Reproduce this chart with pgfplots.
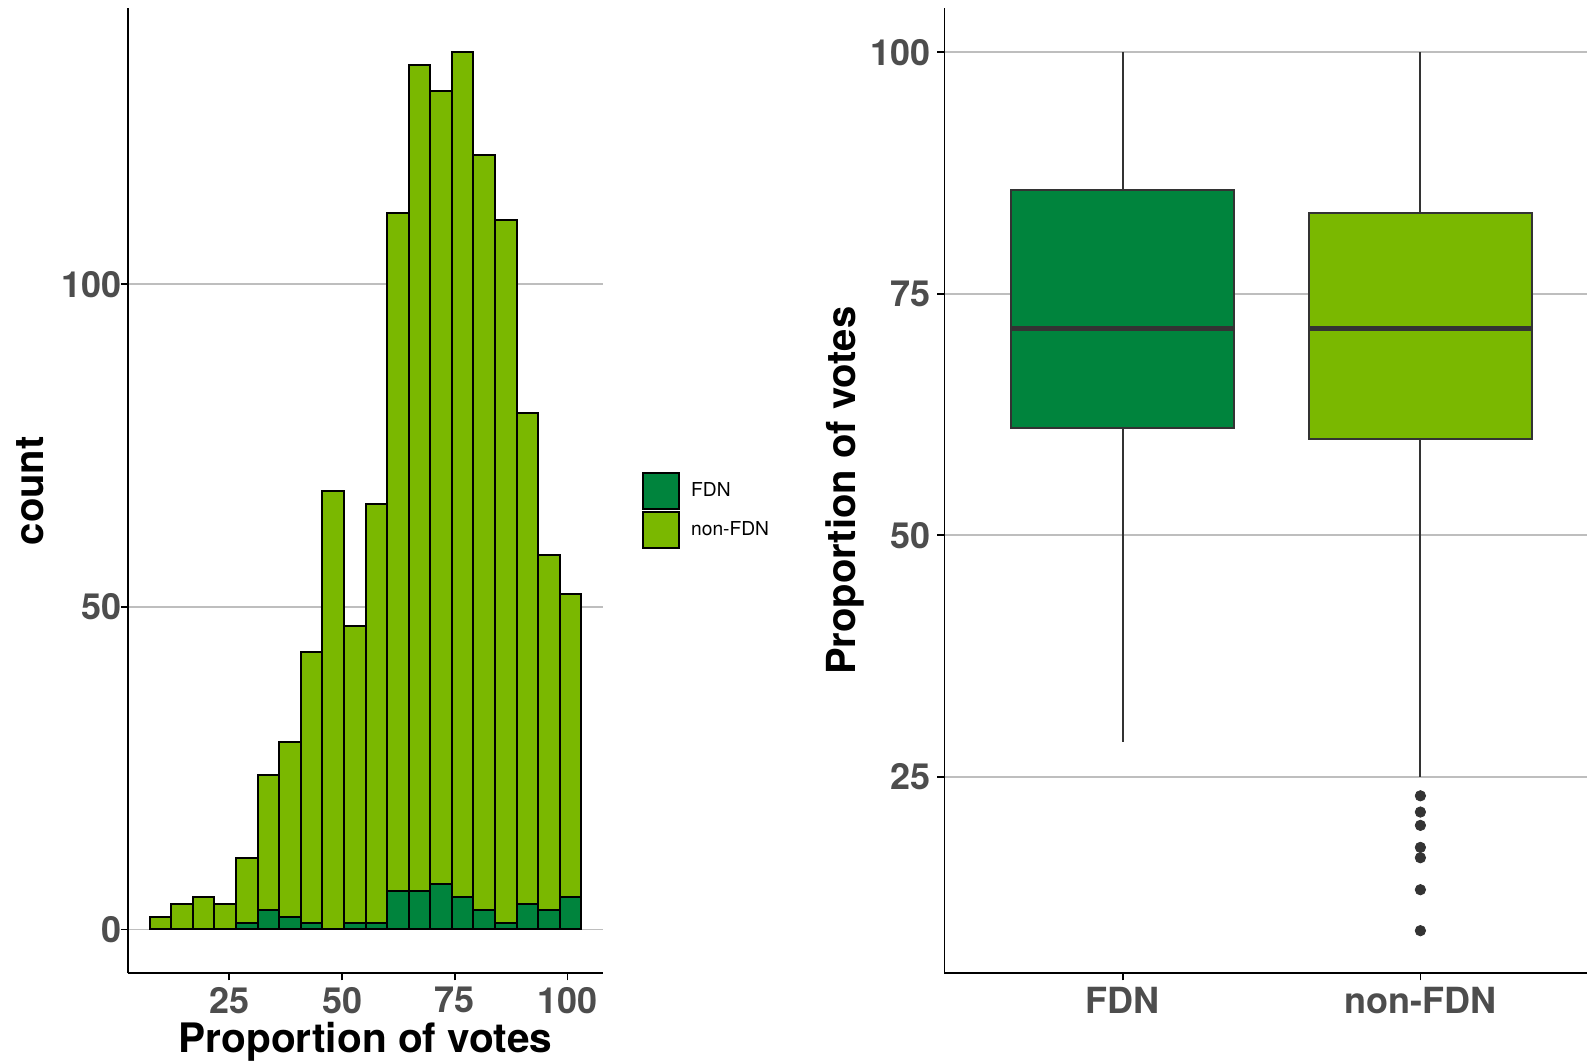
\documentclass[border=0pt]{standalone}
\usepackage{fontspec}
\setmainfont{TeX Gyre Heros}
\usepackage{pgfplots}
\pgfplotsset{compat=1.18}
\definecolor{fdn}{RGB}{0,132,61}
\definecolor{nonfdn}{RGB}{122,184,0}
\definecolor{grey30}{RGB}{77,77,77}
\definecolor{grey20}{RGB}{51,51,51}
\definecolor{gridc}{RGB}{190,190,190}
\pgfplotsset{
  myax/.style={
    scale only axis,
    axis x line*=bottom, axis y line*=left,
    axis line style={-, black, line width=0.9pt},
    tick align=outside, major tick length=3.5pt,
    tick style={black, line width=0.9pt},
    ymajorgrids, grid style={gridc, line width=0.9pt},
    tick label style={font=\fontsize{18}{18}\selectfont\bfseries, text=grey30},
    /pgf/number format/assume math mode=true,
  }
}
\begin{document}
\begin{tikzpicture}
\useasboundingbox (0,0) rectangle (793.5pt,530.5pt);
\begin{axis}[myax, at={(64pt,43.85pt)}, anchor=south west,
  width=237.5pt, height=482.5pt,
  xmin=2.5, xmax=107.9, ymin=-6.8, ymax=142.8,
  xtick={25,50,75,100}, ytick={0,50,100},
  yticklabel style={xshift=4pt},
  ybar stacked, bar width=4.79,
  xlabel={Proportion of votes}, ylabel={count},
  every axis x label/.style={at={(axis description cs:0.5,-0.0816)}, anchor=base,
    font=\fontsize{20.3}{20}\selectfont\bfseries, text=black},
  every axis y label/.style={at={(axis description cs:-0.2055,0.5)}, anchor=center, rotate=90,
    font=\fontsize{20}{20}\selectfont\bfseries, text=black},
  legend cell align=left,
  legend style={at={(axis description cs:1.0817,0.5199)}, anchor=north west,
    draw=none, fill=none, inner sep=0pt, row sep=0.5pt,
    font=\fontsize{9.6}{10}\selectfont},
]
\addplot[fill=fdn, draw=black, line width=1pt,
  legend image code/.code={\draw[fill=fdn, draw=black, line width=1pt] (0pt,-9pt) rectangle (18pt,9pt); \path[draw=none,fill=none] (0pt,0pt) -- (22pt,0pt);}]
  coordinates {(9.70,0) (14.49,0) (19.28,0) (24.07,0) (28.86,1) (33.65,3) (38.44,2) (43.23,1) (48.02,0) (52.81,1)
               (57.60,1) (62.39,6) (67.18,6) (71.97,7) (76.76,5) (81.55,3) (86.34,1) (91.13,4) (95.92,3) (100.71,5)};
\addlegendentry{FDN}
\addplot[fill=nonfdn, draw=black, line width=1pt,
  legend image code/.code={\draw[fill=nonfdn, draw=black, line width=1pt] (0pt,-9pt) rectangle (18pt,9pt); \path[draw=none,fill=none] (0pt,0pt) -- (22pt,0pt);}]
  coordinates {(9.70,2) (14.49,4) (19.28,5) (24.07,4) (28.86,10) (33.65,21) (38.44,27) (43.23,42) (48.02,68) (52.81,46)
               (57.60,65) (62.39,105) (67.18,128) (71.97,123) (76.76,131) (81.55,117) (86.34,109) (91.13,76) (95.92,55) (100.71,47)};
\addlegendentry{non-FDN}
\end{axis}
\begin{axis}[myax, at={(472.2pt,43.85pt)}, anchor=south west,
  width=321.3pt, height=482.5pt,
  xmin=0.4, xmax=2.56, ymin=4.66, ymax=104.54,
  xtick={1,2}, xticklabels={FDN,non-FDN}, ytick={25,50,75,100},
  ylabel={Proportion of votes},
  every axis y label/.style={at={(axis description cs:-0.1544,0.5)}, anchor=center, rotate=90,
    font=\fontsize{20}{20}\selectfont\bfseries, text=black},
]
% whiskers
\addplot[grey20, line width=1pt] coordinates {(1,85.76) (1,100)};
\addplot[grey20, line width=1pt] coordinates {(1,28.6) (1,61.15)};
\addplot[grey20, line width=1pt] coordinates {(2,83.35) (2,100)};
\addplot[grey20, line width=1pt] coordinates {(2,25.0) (2,60.0)};
% boxes
\addplot[fill=fdn, draw=grey20, line width=1pt] coordinates {(0.625,61.15) (1.375,61.15) (1.375,85.76) (0.625,85.76)} -- cycle;
\addplot[fill=nonfdn, draw=grey20, line width=1pt] coordinates {(1.625,60.0) (2.375,60.0) (2.375,83.35) (1.625,83.35)} -- cycle;
% medians
\addplot[grey20, line width=2.2pt] coordinates {(0.625,71.4) (1.375,71.4)};
\addplot[grey20, line width=2.2pt] coordinates {(1.625,71.4) (2.375,71.4)};
% outliers
\addplot[only marks, mark=*, mark size=2.6pt, grey20] coordinates {(2,23.03) (2,21.35) (2,19.97) (2,17.69) (2,16.62) (2,13.31) (2,9.07)};
\end{axis}
\end{tikzpicture}
\end{document}
